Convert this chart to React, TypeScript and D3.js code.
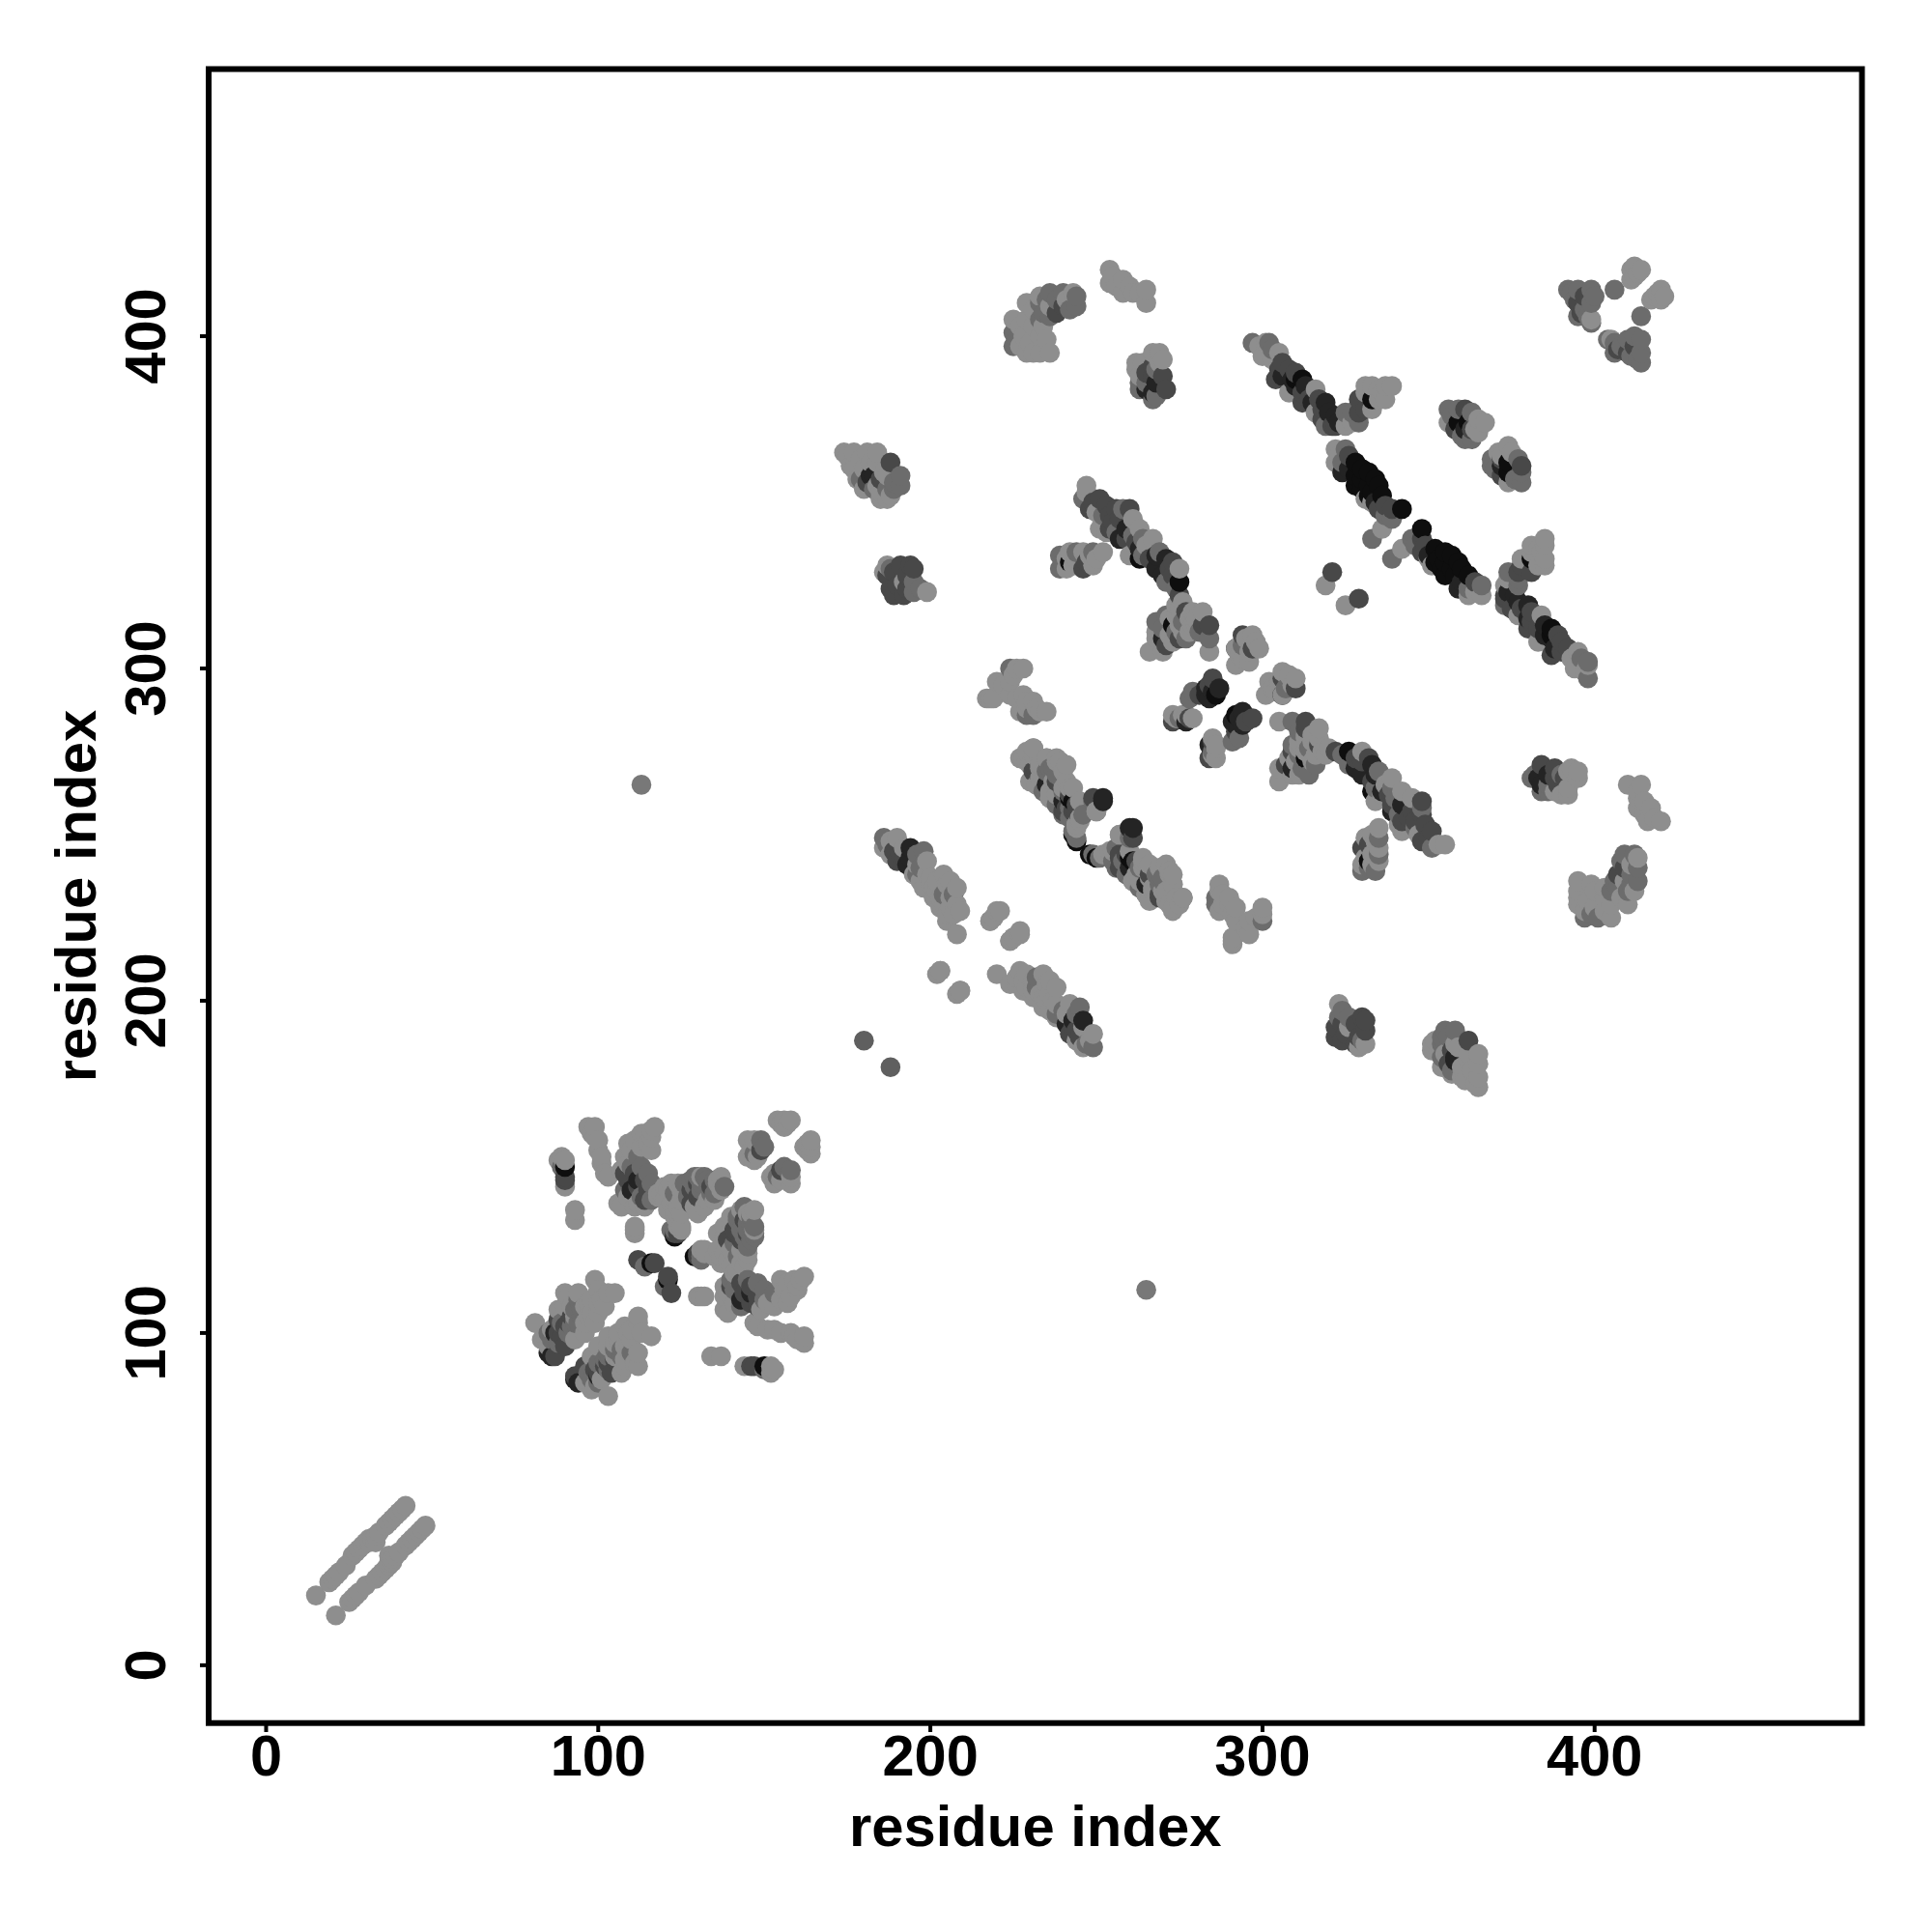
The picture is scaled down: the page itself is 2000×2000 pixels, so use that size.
import React from "react";
import * as d3 from "d3";

// contact = [residue i, residue j, shade]; each is drawn at (i,j) and at (j,i)
const L = 142, M = 108, D = 72, V = 36, B = 14;

const nTerminus = [
  [15,21,L],[19,25,L],[20,26,L],[21,27,L],[22,28,L],[24,30,L],[26,33,L],[27,34,L],[28,35,L],[29,36,L],[30,37,L],[31,38,L],[31,37,L],[32,38,L],[33,39,L],[33,37,L],[34,40,L],[36,42,L],[37,43,L],[38,44,L],[39,45,L],[40,46,L],[41,47,L],[42,48,L],
];
const lowSquareHelix = [
  [86,93,V],[85,94,V],[87,93,D],[87,100,V],[88,104,D],[90,102,D],[88,97,M],[90,96,D],[92,105,D],[91,100,M],[94,103,M],[95,107,M],[93,98,L],[94,110,M],
  [88,100,D],[89,99,D],[91,103,D],[85,100,M],[86,98,M],[89,103,M],[92,102,M],[93,103,M],[93,107,M],[95,105,M],
  [81,103,L],[83,98,L],[84,99,L],[85,96,L],[86,101,L],[90,108,L],[88,107,L],[91,111,L],[90,112,L],[92,108,L],[97,105,L],[96,100,L],[96,103,L],[99,103,L],[100,106,L],[96,108,L],[98,106,L],[97,109,L],[98,110,L],[100,109,L],[102,108,L],[99,116,L],[100,113,L],[94,112,L],[101,110,L],[103,112,L],[105,112,L],[93,105,L],
];
const lowSquareStrands = [
  [90,150,B],[90,147,D],[90,146,D],[89,150,M],[90,152,L],[89,153,L],[90,144,L],[88,152,L],[93,137,L],[93,134,L],
  [97,162,L],[98,160,L],[99,162,L],[99,159,L],[100,158,L],[100,155,L],[101,153,L],[101,151,L],[102,148,L],[103,147,L],[106,139,L],[107,138,L],
  [108,148,D],[111,148,D],[115,148,M],[110,143,V],[115,143,D],[114,140,D],[112,153,M],[109,146,D],[112,146,V],[114,146,D],[112,144,D],[110,150,M],[113,150,M],[113,141,M],[116,145,M],[108,143,M],[116,140,M],
  [108,153,L],[109,151,L],[109,157,L],[110,155,L],[111,158,L],[113,156,L],[113,160,L],[114,160,L],[115,157,L],[116,159,L],[116,161,L],[116,155,L],[117,162,L],[107,149,L],[109,141,L],[112,139,L],[111,138,L],[114,138,L],[111,132,L],[111,130,L],[111,131,L],
  [112,122,D],[116,121,B],[117,121,D],[114,120,M],
  [123,129,B],[123,130,D],[124,130,D],[123,131,M],[122,131,M],[124,132,L],[125,131,L],[125,132,L],
  [128,143,D],[130,141,D],[131,141,D],[128,139,D],[123,142,M],[128,146,M],[130,145,D],[126,145,M],[127,141,M],[129,144,M],[131,145,M],[132,147,M],[133,145,M],[134,142,M],[135,146,M],[138,144,M],
  [118,141,L],[119,142,L],[120,144,L],[121,143,L],[122,145,L],[124,145,L],[120,140,L],[122,139,L],[125,143,L],[125,140,L],[123,137,L],[121,137,L],[123,135,L],[125,136,L],[129,138,L],[132,138,L],[133,140,L],[130,136,L],[136,145,L],[137,147,L],
  [134,144,D],[131,143,M],[129,147,M],[130,147,M],[133,146,M],[135,142,M],[135,140,L],[136,146,L],[131,147,L],[137,143,L],[124,138,L],[118,142,L],
  [149,155,D],[147,154,M],[149,158,M],[150,156,M],[145,158,L],[145,153,L],[146,155,L],[147,158,L],[147,152,L],[148,153,L],[154,164,L],[155,163,L],[156,164,L],[157,163,L],[158,164,L],[156,162,L],
];
const midIsolated = [
  [113,265,120],[180,188,95],[321,329,D],[319,325,L],
];
const helixPairA = [
  [186,249,M],[186,246,L],[187,247,M],[189,245,D],[190,242,D],[191,244,D],[192,243,D],[194,246,V],[193,241,V],[194,243,V],[188,244,L],[188,248,L],[195,238,L],[197,240,M],[190,249,L],[192,246,L],[198,245,M],[196,244,M],[196,241,L],[199,242,L],[196,238,M],
  [197,236,L],[198,234,L],[199,238,L],[200,237,L],[200,235,L],[204,238,L],[201,231,L],[201,234,L],[202,233,L],[208,234,L],[204,232,M],[207,232,M],[203,231,L],[204,229,L],[206,231,L],[206,228,L],[208,229,L],[209,227,L],[205,226,L],[207,226,L],[203,228,L],[205,224,L],[208,220,L],[202,236,L],[205,235,L],[206,236,L],
  [218,224,L],[219,225,L],[220,227,L],[224,218,L],[225,219,L],[227,221,L],[202,208,L],[203,209,L],[209,203,L],
];
const helixPairB = [
  [231,269,D],[232,265,L],[235,269,M],[235,265,L],[240,260,V],[243,260,B],[240,256,M],[244,257,D],[236,261,L],[240,269,L],[234,263,M],[237,270,M],[242,262,D],[242,258,M],[246,256,M],
  [227,273,L],[229,272,L],[231,276,L],[233,271,L],[233,267,L],[235,273,L],[238,273,L],[239,272,L],[241,271,L],[237,266,L],[238,262,L],[241,266,L],[240,264,L],[243,264,L],[245,260,L],[245,254,L],[244,253,L],[244,248,B],[244,249,M],[243,251,M],[249,260,M],[252,260,V],[250,257,L],
  [261,252,V],[261,249,D],[257,250,L],[250,243,B],[252,244,L],[253,244,L],[255,245,L],[255,242,M],[257,243,D],[257,240,D],[258,241,D],[259,244,D],[261,242,B],[259,238,M],[264,242,L],[265,235,V],[266,238,D],[263,240,M],[261,236,L],[263,236,L],[265,232,L],[269,232,D],[268,238,M],[270,236,M],[267,234,L],[270,233,L],[272,239,L],[272,238,L],[273,235,L],[276,231,L],[274,231,L],[271,230,L],[273,228,L],[275,229,L],[266,230,L],
];
const helixPairC = [
  [246,351,M],[251,351,D],[249,350,D],[248,348,D],[253,349,D],[256,348,D],[260,348,D],[254,346,D],[257,345,D],[255,344,D],[259,342,V],[254,342,D],[251,342,L],[250,347,L],[252,346,M],[258,348,M],[247,353,L],[247,355,L],[253,341,L],[256,341,M],
  [257,339,V],[259,339,D],[261,340,M],[264,339,M],[267,339,L],[261,345,L],[262,338,D],[263,336,V],[263,333,B],[266,333,D],[268,334,V],[271,333,V],[268,330,V],[270,328,V],[272,330,D],[273,332,D],[273,328,D],[262,336,L],[260,334,L],[264,334,M],[265,337,L],[269,335,M],[263,342,L],[275,330,L],[271,326,M],[275,326,B],[274,324,M],[275,322,D],[276,320,L],[274,319,L],[275,318,L],
  [239,334,M],[239,330,M],[242,332,B],[240,332,M],[241,333,L],[242,335,L],[241,330,L],[243,331,L],[244,333,L],[246,330,D],[247,332,D],[244,335,M],[246,335,L],[248,334,L],[249,335,M],[249,331,L],[250,333,L],[252,335,L],
];
const centreBlock = [
  [270,309,V],[273,313,B],[275,309,D],[271,307,D],[277,309,M],[270,312,M],[277,317,D],[284,313,D],[282,313,D],[284,309,M],[281,311,M],[274,311,M],[276,314,M],[268,314,M],[273,308,L],[268,311,L],[268,309,L],[271,316,M],[272,315,L],[272,310,L],[274,316,L],[275,313,L],[276,311,L],[278,315,L],[278,311,L],[279,313,L],[279,317,L],[280,315,L],[280,313,L],[282,317,L],[266,305,L],[270,305,L],[284,305,L],
  [294,310,D],[297,310,L],[292,306,V],[294,307,M],[292,306,L],[297,306,D],[295,309,L],[296,305,L],[298,308,L],[299,306,L],[293,304,L],[294,303,L],[292,301,L],[296,302,L],
  [285,297,D],[284,295,D],[283,294,V],[285,293,V],[287,294,V],[283,292,V],[284,291,V],[286,292,B],[281,292,D],[278,291,M],[279,293,M],
  [277,284,V],[273,284,D],[278,285,D],[275,285,M],[276,286,L],[279,285,L],[274,285,L],[277,286,L],[273,286,L],
  [228,300,L],[226,300,L],[224,300,M],[225,298,L],[220,296,L],[224,296,L],[222,295,L],[217,291,L],[218,291,L],[219,291,L],[224,292,L],[226,291,L],[228,292,L],[229,290,L],[231,290,L],[229,288,L],[231,286,M],[229,286,M],[227,287,L],[232,288,L],[233,287,L],[235,287,L],
];
const outerStrandA = [
  [297,398,M],[299,397,L],[301,398,L],[302,398,M],[303,396,M],[300,394,L],[303,393,L],[305,395,L],[305,390,D],[306,392,D],[306,388,V],[308,390,D],[310,389,D],[304,387,D],[309,387,V],[310,385,V],[310,387,B],[312,387,B],[313,385,V],[308,383,L],[312,383,D],[312,380,D],[314,381,D],[316,384,L],[315,380,V],[317,381,D],[319,380,V],[318,378,D],[318,375,D],[320,377,V],[322,376,V],[316,377,L],
  [319,373,M],[321,373,D],[322,373,D],[323,374,V],[325,377,M],[325,373,L],[327,374,L],[327,377,M],[329,374,M],[329,377,D],[329,381,D],[331,378,D],[333,381,B],[333,378,L],[331,383,L],[331,385,L],[333,385,L],[335,384,L],[335,381,L],[336,383,L],[337,385,L],[339,385,L],[337,381,L],
];
const outerStrandB = [
  [322,366,L],[323,364,L],[322,362,L],[324,362,M],[324,359,V],[326,360,V],[326,364,D],[325,366,M],[328,362,B],[328,358,B],[330,360,B],[330,357,B],[332,359,B],[334,357,B],[328,355,B],[330,354,B],[332,355,B],[335,355,B],[333,353,B],[336,352,B],[334,350,V],[331,351,L],[333,350,L],[332,352,B],[335,348,D],[337,349,D],[339,348,D],[342,348,B],[337,346,M],[339,345,M],[336,342,L],[333,339,M],
];
const termCorners = [
  [356,378,M],[359,378,M],[361,378,D],[363,377,M],[357,376,M],[356,374,L],[358,372,D],[359,374,B],[361,372,V],[362,374,B],[360,370,M],[361,369,M],[363,369,M],[363,372,D],[364,372,L],[365,375,L],[365,371,L],[367,374,L],
  [182,358,V],[183,358,V],[185,357,D],[181,356,D],[179,357,M],[183,354,M],[188,362,D],[187,354,M],[189,356,M],[189,354,M],[191,358,M],[191,355,M],
  [174,365,L],[175,364,L],[177,365,L],[179,363,L],[181,365,L],[182,362,L],[184,365,L],[176,361,L],[177,360,L],[180,360,L],[178,357,L],[180,354,L],[184,362,L],[186,359,L],[187,358,L],[184,355,L],[185,353,L],[185,351,L],[187,351,L],[188,352,L],
  [187,328,D],[188,324,D],[189,329,D],[190,325,D],[189,322,D],[192,322,D],[193,328,D],[193,324,D],[191,331,D],[194,331,D],[195,330,D],[195,323,M],[197,324,M],[195,326,M],[186,329,L],[187,331,L],[188,330,M],[192,326,L],[199,323,L],
];
const topLeftCap = [
  [225,397,M],[226,399,M],[225,401,M],[225,405,L],[227,397,L],[227,403,L],[229,410,L],[229,405,L],[229,395,L],[228,400,L],[230,398,L],[231,408,L],[231,403,L],[231,395,L],[233,410,M],[233,405,M],[234,407,M],[233,400,L],[234,403,L],[233,395,L],[235,399,L],[236,395,L],[233,412,L],[235,411,M],[236,413,M],[238,411,M],[240,413,M],[240,409,D],[238,407,D],[236,406,M],[236,409,L],[241,411,L],[242,408,M],[244,409,M],[243,413,L],[244,412,M],
  [254,420,L],[255,418,L],[254,416,L],[256,415,L],[258,417,L],[258,413,L],[260,415,L],[261,413,L],[263,413,L],[265,414,L],[265,410,L],
  [267,391,D],[265,389,D],[267,388,D],[270,388,D],[265,384,V],[268,386,V],[267,383,V],[271,384,D],[265,386,M],[268,390,M],[267,381,M],[268,382,M],[263,384,M],[263,386,M],[267,395,L],[269,395,L],[264,392,L],[262,392,L],[262,390,L],[263,388,L],[269,392,L],[270,393,L],
];
const topRightCap = [
  [395,410,D],[396,407,D],[397,412,D],[392,414,M],[393,413,M],[394,411,M],[395,414,M],[397,408,M],[398,406,M],[399,414,M],[400,412,M],[399,410,M],[395,406,M],[399,404,M],[399,405,L],[406,414,M],[411,420,L],[412,418,L],[413,419,L],[414,420,L],[412,421,L],[411,417,L],
];

const contactGroups = [nTerminus, lowSquareHelix, lowSquareStrands, midIsolated, helixPairA, helixPairB, helixPairC, centreBlock, outerStrandA, outerStrandB, termCorners, topLeftCap, topRightCap];

const tickValues = [0, 100, 200, 300, 400];
const axisTitle = "residue index";
const xDomain = [-17.3, 480.5];
const yDomain = [-17.4, 480.4];

const FONT = "'Liberation Sans', Arial, sans-serif";

export default function App() {
  const x = d3.scaleLinear().domain(xDomain).range([216, 1927.5]);
  const y = d3.scaleLinear().domain(yDomain).range([1783.7, 71.5]);
  // the plot lists contacts by residue: later x, then later y, sit on top
  const pts = contactGroups
    .flat()
    .flatMap(([i, j, s]) => [[i, j, s], [j, i, s]])
    .sort((p, q) => d3.ascending(p[0], q[0]) || d3.ascending(p[1], q[1]));
  return (
    <svg width={2000} height={2000} style={{ position: "absolute", left: 0, top: 0, background: "#fff" }}>
      <g>
        {pts.map(([a, b, s], k) => (
          <circle key={k} cx={x(a)} cy={y(b)} r={10.3} fill={d3.rgb(s, s, s).formatHex()} />
        ))}
      </g>
      <rect x={216} y={71.5} width={1711.5} height={1712.2} fill="none" stroke="#000" strokeWidth={6} />
      {tickValues.map((t) => (
        <g key={t}>
          <line x1={x(t)} x2={x(t)} y1={1783.7} y2={1793} stroke="#000" strokeWidth={4} />
          <text x={x(t)} y={1838} textAnchor="middle" fontFamily={FONT} fontWeight="bold" fontSize={59.5}>{t}</text>
          <line x1={216} x2={207} y1={y(t)} y2={y(t)} stroke="#000" strokeWidth={4} />
          <text transform={`translate(171,${y(t)}) rotate(-90)`} textAnchor="middle" fontFamily={FONT} fontWeight="bold" fontSize={59.5}>{t}</text>
        </g>
      ))}
      <text x={1071.7} y={1911} textAnchor="middle" fontFamily={FONT} fontWeight="bold" fontSize={59.8}>{axisTitle}</text>
      <text transform={`translate(99,927.6) rotate(-90)`} textAnchor="middle" fontFamily={FONT} fontWeight="bold" fontSize={59.8}>{axisTitle}</text>
    </svg>
  );
}
